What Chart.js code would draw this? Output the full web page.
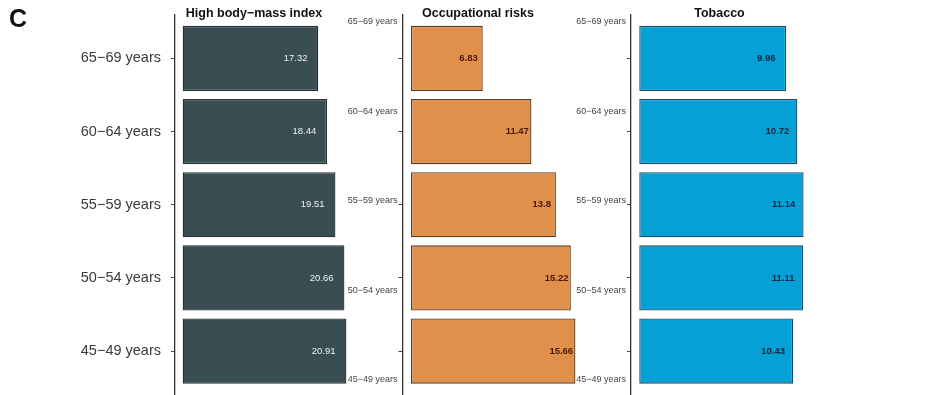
<!DOCTYPE html>
<html>
<head>
<meta charset="utf-8">
<script src="https://cdn.jsdelivr.net/npm/chart.js@4.4.1/dist/chart.umd.min.js"></script>
<style>
  body { margin: 0; background: #fff; }
  #wrap { position: relative; width: 927px; height: 395px; }
  #wrap canvas { position: absolute; left: 0; top: 0; }
  #tag { position: absolute; left: 9px; top: 4px; font: bold 25px "Liberation Sans", Arial, sans-serif; color: #111; }
</style>
</head>
<body>
<div id="wrap">
  <canvas id="c1" width="927" height="395"></canvas>
  <canvas id="c2" width="927" height="395"></canvas>
  <canvas id="c3" width="927" height="395"></canvas>
  <div id="tag">C</div>
</div>
<script>
// age groups, top to bottom
const ageGroups = ['65−69 years', '60−64 years', '55−59 years', '50−54 years', '45−49 years'];

const bmiValues = [17.32, 18.44, 19.51, 20.66, 20.91];
const occupationalValues = [6.83, 11.47, 13.8, 15.22, 15.66];
const tobaccoValues = [9.96, 10.72, 11.14, 11.11, 10.43];

const panelTitles = ['High body−mass index', 'Occupational risks', 'Tobacco'];

const FONT = '"Liberation Sans", Arial, sans-serif';
const W = 927;

// value labels drawn inside the bar ends
const valueLabels = {
  id: 'valueLabels',
  afterDatasetsDraw(chart, args, opts) {
    const ctx = chart.ctx;
    const xs = chart.scales.x, ys = chart.scales.y;
    const vals = chart.data.datasets[0].data;
    ctx.save();
    ctx.font = (opts.bold ? 'bold ' : '') + '9.5px ' + FONT;
    ctx.fillStyle = opts.color;
    ctx.textAlign = 'center';
    ctx.textBaseline = 'middle';
    vals.forEach((p) => {
      ctx.fillText(String(p.x), xs.getPixelForValue(p.x - opts.back), ys.getPixelForValue(p.y));
    });
    ctx.restore();
  }
};

function fitWidth(w) {
  return (s) => { s.width = w; s.paddingTop = 0; s.paddingBottom = 0; };
}

function makePanel(id, cfg) {
  const data = cfg.values.map((v, i) => ({ x: v, y: i }));
  const scales = {
    x: { display: false, min: cfg.xmin, max: cfg.xmax },
    y: {
      type: 'linear', reverse: true, min: -0.6, max: 4.6, weight: 0, offset: false,
      afterBuildTicks: (s) => { s.ticks = ageGroups.map((_, i) => ({ value: i })); },
      afterFit: fitWidth(cfg.yWidth),
      border: { display: true, color: '#333', width: 1.3 },
      grid: { offset: false, drawOnChartArea: false, drawTicks: true, tickLength: 4, color: '#444', tickWidth: 1 },
      ticks: {
        display: cfg.bigLabels,
        padding: 10,
        color: '#3a3a3a',
        font: { family: FONT, size: 14.5 },
        callback: (v) => ageGroups[v]
      }
    }
  };
  if (!cfg.bigLabels) {
    // small labels spread over the panel height, next to the axis
    scales.y2 = {
      type: 'linear', position: 'left', reverse: true, weight: 1, offset: false,
      min: -0.078, max: 4.168,
      afterBuildTicks: (s) => { s.ticks = ageGroups.map((_, i) => ({ value: i })); },
      afterFit: fitWidth(80),
      border: { display: false },
      grid: { display: false, drawTicks: false },
      ticks: {
        padding: 0,
        color: '#444',
        font: { family: FONT, size: 9 },
        callback: (v) => ageGroups[v]
      }
    };
  }
  return new Chart(document.getElementById(id), {
    type: 'bar',
    data: {
      datasets: [{
        data: data,
        backgroundColor: cfg.fill,
        borderColor: cfg.border,
        borderWidth: 1.3,
        borderSkipped: false,
        categoryPercentage: 1,
        barPercentage: 0.89,
        clip: false,
        yAxisID: 'y'
      }]
    },
    options: {
      indexAxis: 'y',
      responsive: false,
      animation: false,
      layout: { padding: { left: cfg.padLeft, right: W - cfg.right, top: 0, bottom: 0 } },
      scales: scales,
      plugins: {
        legend: { display: false },
        tooltip: { enabled: false },
        title: {
          display: true,
          text: cfg.title,
          fullSize: false,
          color: '#111',
          font: { family: FONT, size: 12.5, weight: 'bold', lineHeight: 1 },
          padding: { top: 7, bottom: -5 }
        },
        valueLabels: { color: cfg.labelColor, bold: cfg.boldLabels, back: cfg.back }
      }
    },
    plugins: [valueLabels]
  });
}

makePanel('c1', {
  values: bmiValues, title: panelTitles[0], bigLabels: true,
  padLeft: 0, yWidth: 175, right: 333, xmin: -0.98, xmax: 19.2,
  fill: '#3a4d52', border: '#263236', labelColor: '#eef2f3', boldLabels: false, back: 2.9
});
makePanel('c2', {
  values: occupationalValues, title: panelTitles[1], bigLabels: false,
  padLeft: 402.5 - 80 - 5, yWidth: 5, right: 553.5, xmin: -0.81, xmax: 13.57,
  fill: '#e0904a', border: '#5a3a22', labelColor: '#4a1a05', boldLabels: true, back: 1.35
});
makePanel('c3', {
  values: tobaccoValues, title: panelTitles[2], bigLabels: false,
  padLeft: 631 - 80 - 5, yWidth: 5, right: 808, xmin: -0.56, xmax: 11.44,
  fill: '#04a0d6', border: '#1d4a66', labelColor: '#17283f', boldLabels: true, back: 1.35
});
</script>
</body>
</html>
